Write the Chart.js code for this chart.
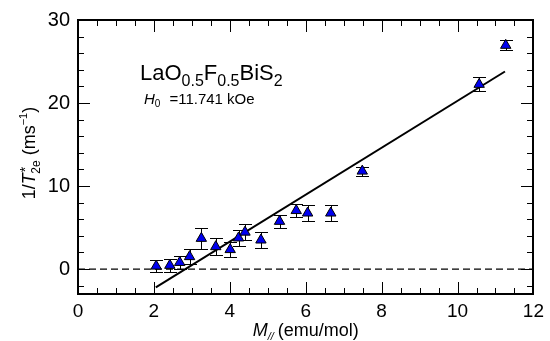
<!DOCTYPE html>
<html>
<head>
<meta charset="utf-8">
<script src="https://cdn.jsdelivr.net/npm/chart.js"></script>
<style>
  body { margin: 0; background: #fff; }
  canvas { display: block; }
</style>
</head>
<body>
<canvas id="relaxChart" width="550" height="341"></canvas>
<script>
// Data
const mPar = [2.06, 2.42, 2.68, 2.94, 3.25, 3.63, 4.01, 4.23, 4.40, 4.82, 5.31, 5.75, 6.05, 6.66, 7.49, 10.57, 11.27];
const invT2 = [0.36, 0.45, 0.8, 1.5, 3.7, 2.7, 2.35, 3.75, 4.45, 3.5, 5.75, 7.05, 6.75, 6.75, 11.8, 22.25, 26.95];
const invT2Err = [0.75, 0.75, 0.75, 0.9, 1.25, 1.05, 0.95, 0.95, 0.95, 1.0, 0.75, 0.8, 0.95, 0.95, 0.55, 0.85, 0.6];
const fitX = [2.05, 11.25];
const fitY = [-2.2, 23.8];
const xTickLabels = [0, 2, 4, 6, 8, 10, 12];
const yTickLabels = [0, 10, 20, 30];

const FONT = "'Liberation Sans', Arial, Helvetica, sans-serif";

// draw a run of text pieces: [text, size, dy, italic, extraSpace]
function drawRich(ctx, parts, x, y, align) {
  let total = 0;
  parts.forEach(p => {
    ctx.font = (p[3] ? "italic " : "") + p[1] + "px " + FONT;
    total += ctx.measureText(p[0]).width + (p[4] || 0);
  });
  let cx = align === "center" ? x - total / 2 : x;
  parts.forEach(p => {
    ctx.font = (p[3] ? "italic " : "") + p[1] + "px " + FONT;
    ctx.fillText(p[0], cx, y + p[2]);
    cx += ctx.measureText(p[0]).width + (p[4] || 0);
  });
}

// box with inward ticks on all four sides
function drawFrame(chart) {
  const ctx = chart.ctx;
  const xs = chart.scales.x, ys = chart.scales.y;
  const left = Math.round(xs.getPixelForValue(0));
  const right = Math.round(xs.getPixelForValue(12));
  const top = Math.round(ys.getPixelForValue(30));
  const bottom = Math.round(ys.getPixelForValue(-3));
  ctx.save();
  ctx.fillStyle = "#000";
  ctx.fillRect(left - 1, top - 1, right - left + 2, 2);
  ctx.fillRect(left - 1, bottom - 1, right - left + 2, 2);
  ctx.fillRect(left - 1, top - 1, 2, bottom - top + 2);
  ctx.fillRect(right - 1, top - 1, 2, bottom - top + 2);
  for (let k = 0; k <= 24; k++) {
    const px = Math.round(xs.getPixelForValue(k * 0.5));
    const len = k % 4 === 0 ? 12 : 6;
    ctx.fillRect(px, bottom - len, 1, len);
    ctx.fillRect(px, top, 1, len);
  }
  for (let k = -1; k <= 15; k++) {
    const v = k * 2;
    const py = Math.round(ys.getPixelForValue(v));
    const len = v % 10 === 0 ? 12 : 6;
    ctx.fillRect(left, py, len, 1);
    ctx.fillRect(right - len, py, len, 1);
  }
  ctx.restore();
}

const framePlugin = {
  id: "frame",
  beforeDatasetsDraw(chart) {
    const ctx = chart.ctx;
    const xs = chart.scales.x, ys = chart.scales.y;
    drawFrame(chart);
    ctx.save();
    ctx.fillStyle = "#000";
    // error bars
    for (let i = 0; i < mPar.length; i++) {
      const px = Math.round(xs.getPixelForValue(mPar[i]));
      const top = Math.round(ys.getPixelForValue(invT2[i] + invT2Err[i]));
      const bot = Math.round(ys.getPixelForValue(invT2[i] - invT2Err[i]));
      ctx.fillRect(px, top, 1, bot - top);
      ctx.fillRect(px - 6, top, 13, 1);
      ctx.fillRect(px - 6, bot, 13, 1);
    }
    ctx.restore();
  },
  afterDraw(chart) {
    const ctx = chart.ctx;
    const xs = chart.scales.x;
    const mid = (xs.getPixelForValue(0) + xs.getPixelForValue(12)) / 2;
    ctx.save();
    ctx.fillStyle = "#000";
    ctx.textBaseline = "alphabetic";
    ctx.textAlign = "left";

    // x axis title
    drawRich(ctx, [
      ["M", 18, 0, true],
      ["//", 11, 4, true, 4],
      ["(emu/mol)", 18, 0, false]
    ], mid, 336, "center");

    // y axis title
    ctx.save();
    ctx.translate(35, 153);
    ctx.rotate(-Math.PI / 2);
    drawRich(ctx, [
      ["1/", 18, 0, false],
      ["T", 18, 0, true, 1],
      ["*", 14, -5, false, -7],
      ["2e", 12, 5, false, 5],
      ["(ms", 18, 0, false],
      ["\u22121", 11, -8, false],
      [")", 18, 0, false]
    ], 0, 0, "center");
    ctx.restore();

    // annotation
    drawRich(ctx, [
      ["LaO", 22, 0, false],
      ["0.5", 16, 6, false],
      ["F", 22, 0, false],
      ["0.5", 16, 6, false],
      ["BiS", 22, 0, false],
      ["2", 16, 6, false]
    ], 140, 80, "left");
    drawRich(ctx, [
      ["H", 15, 0, true],
      ["0", 10, 3, false, 9],
      ["=11.741 kOe", 15, 0, false]
    ], 144, 104, "left");
    ctx.restore();
  }
};

new Chart(document.getElementById("relaxChart"), {
  type: "scatter",
  data: {
    datasets: [
      {
        label: "data",
        data: mPar.map((x, i) => ({ x: x, y: invT2[i] })),
        pointStyle: "triangle",
        pointRadius: 6,
        backgroundColor: "#0000f0",
        borderColor: "#000",
        borderWidth: 1,
        order: 0
      },
      {
        label: "fit",
        type: "line",
        data: fitX.map((x, i) => ({ x: x, y: fitY[i] })),
        borderColor: "#000",
        borderWidth: 2,
        pointRadius: 0,
        fill: false,
        order: 1
      },
      {
        label: "zero",
        type: "line",
        data: [{ x: 0, y: 0 }, { x: 12, y: 0 }],
        borderColor: "#000",
        borderWidth: 1.4,
        borderDash: [7, 4],
        pointRadius: 0,
        fill: false,
        order: 2
      }
    ]
  },
  options: {
    responsive: false,
    animation: false,
    layout: { padding: { top: 17, right: 12, left: 0, bottom: 0 } },
    plugins: { legend: { display: false }, tooltip: { enabled: false } },
    scales: {
      x: {
        type: "linear",
        min: 0,
        max: 12,
        grid: { display: false, drawTicks: false },
        border: { display: false },
        afterFit: s => { s.height = 47; },
        afterBuildTicks: s => { s.ticks = xTickLabels.map(v => ({ value: v })); },
        ticks: { padding: 6, color: "#000", font: { family: FONT, size: 19 } }
      },
      y: {
        type: "linear",
        min: -3,
        max: 30,
        grid: { display: false, drawTicks: false },
        border: { display: false },
        afterFit: s => { s.width = 78; },
        afterBuildTicks: s => { s.ticks = yTickLabels.map(v => ({ value: v })); },
        ticks: { padding: 8, color: "#000", font: { family: FONT, size: 20 } }
      }
    }
  },
  plugins: [framePlugin]
});
</script>
</body>
</html>
